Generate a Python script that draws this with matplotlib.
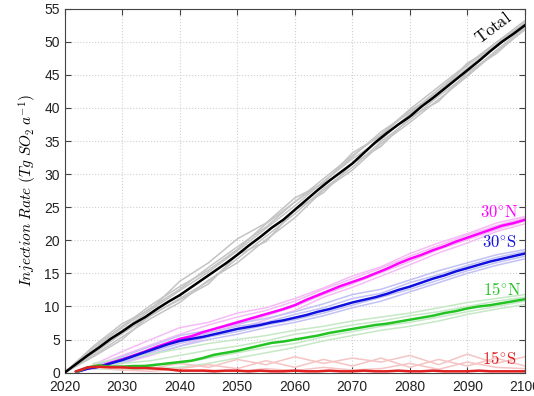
import numpy as np
import matplotlib
matplotlib.use("Agg")
import matplotlib.pyplot as plt

plt.rcParams['font.family'] = ['Liberation Sans', 'DejaVu Sans']
plt.rcParams['mathtext.fontset'] = 'cm'

# ensemble mean, every 2 years 2020-2100 (Tg SO2 per year)
years = np.arange(2020, 2101, 2)
total = [0, 1.3, 2.6, 3.8, 5.1, 6.2, 7.4, 8.4, 9.6, 10.7, 11.7, 12.9, 14.1, 15.3, 16.5,
         17.8, 19.2, 20.5, 21.9, 23.1, 24.6, 26.1, 27.6, 29.0, 30.3, 31.6, 33.2, 34.8,
         36.2, 37.5, 38.7, 40.2, 41.5, 42.9, 44.3, 45.7, 47.1, 48.6, 50.0, 51.2, 52.5]
n30 = [np.nan, 0.1, 0.6, 0.9, 1.5, 2.0, 2.6, 3.2, 3.9, 4.5, 5.1, 5.5, 6.1, 6.6, 7.1, 7.6,
       8.1, 8.6, 9.1, 9.6, 10.2, 11.0, 11.7, 12.4, 13.1, 13.7, 14.3, 15.0, 15.7, 16.5,
       17.2, 17.8, 18.5, 19.1, 19.8, 20.4, 21.0, 21.6, 22.2, 22.6, 23.1]
s30 = [np.nan, 0.1, 0.6, 0.9, 1.4, 1.9, 2.5, 3.1, 3.7, 4.3, 4.8, 5.1, 5.4, 5.8, 6.2, 6.6,
       6.9, 7.2, 7.6, 7.9, 8.3, 8.7, 9.2, 9.6, 10.1, 10.6, 11.0, 11.4, 11.9, 12.5, 13.0,
       13.6, 14.2, 14.7, 15.3, 15.8, 16.3, 16.8, 17.2, 17.6, 18.0]
n15 = [np.nan, 0.1, 0.8, 1.1, 0.9, 0.9, 1.0, 1.0, 1.2, 1.4, 1.6, 1.8, 2.2, 2.7, 3.0, 3.3,
       3.7, 4.1, 4.5, 4.7, 5.0, 5.3, 5.6, 6.0, 6.3, 6.6, 6.9, 7.2, 7.4, 7.7, 8.0, 8.3,
       8.6, 9.0, 9.3, 9.7, 10.0, 10.2, 10.5, 10.8, 11.1]
s15 = [np.nan, 0.2, 0.8, 0.9, 0.8, 0.8, 0.7, 0.7, 0.6, 0.5, 0.3, 0.3, 0.3, 0.2, 0.3, 0.3,
       0.2, 0.3, 0.2, 0.2, 0.3, 0.2, 0.2, 0.3, 0.2, 0.2, 0.3, 0.2, 0.2, 0.3, 0.2, 0.2,
       0.3, 0.2, 0.2, 0.2, 0.3, 0.2, 0.2, 0.2, 0.2]

# individual members, every 5 years
myears = np.arange(2020, 2101, 5)
total_members = [
    [0, 3.8, 7.0, 10.2, 13.0, 15.5, 18.6, 22.5, 25.8, 28.8, 32.6, 36.4, 39.3, 42.8, 46.4, 49.8, 52.8],
    [0, 2.6, 5.4, 8.2, 10.6, 14.0, 16.6, 20.1, 23.4, 27.6, 30.6, 34.6, 37.8, 41.3, 44.8, 48.5, 51.8],
    [0, 3.5, 6.8, 9.8, 12.6, 15.9, 19.0, 22.0, 25.8, 29.3, 32.8, 36.0, 39.8, 43.2, 46.6, 49.9, 53.2],
    [0, 2.9, 5.9, 8.6, 11.2, 13.8, 17.2, 20.6, 24.0, 27.8, 31.0, 34.9, 38.2, 41.8, 45.0, 48.7, 52.2],
    [0, 3.3, 6.4, 9.5, 12.4, 15.2, 18.4, 21.8, 25.2, 28.9, 32.3, 35.2, 39.1, 42.5, 46.0, 49.5, 52.6],
    [0, 4.0, 7.4, 9.6, 13.8, 16.6, 20.2, 22.6, 26.4, 28.6, 33.2, 35.8, 39.6, 42.2, 46.8, 49.2, 53.0],
    [0, 2.4, 5.0, 8.8, 11.0, 13.4, 17.8, 19.8, 24.6, 27.2, 31.6, 34.2, 38.6, 41.0, 45.4, 48.2, 52.0],
]
n30_members = [
    [np.nan, 1.2, 3.2, 5.0, 6.8, 7.6, 9.0, 9.8, 11.2, 12.8, 14.6, 16.0, 18.0, 19.6, 21.0, 22.6, 23.6],
    [np.nan, 0.6, 1.4, 2.6, 4.0, 5.4, 6.6, 8.0, 9.4, 11.4, 12.9, 14.6, 16.3, 18.1, 19.6, 21.3, 22.5],
    [np.nan, 1.0, 2.6, 4.2, 5.8, 7.2, 8.4, 9.4, 10.8, 12.6, 14.2, 15.8, 17.6, 19.2, 20.8, 22.2, 23.4],
    [np.nan, 0.8, 1.8, 3.0, 4.6, 6.0, 7.2, 8.6, 10.0, 11.8, 13.4, 15.1, 16.8, 18.6, 20.1, 21.6, 22.9],
]
s30_members = [
    [np.nan, 1.0, 2.4, 4.0, 5.6, 6.4, 7.4, 8.2, 9.2, 10.4, 11.8, 12.6, 14.0, 15.4, 16.6, 17.8, 18.6],
    [np.nan, 0.5, 1.5, 2.8, 4.0, 5.0, 5.8, 6.8, 7.6, 8.6, 9.8, 10.8, 12.2, 13.6, 15.0, 16.2, 17.2],
    [np.nan, 0.8, 2.0, 3.6, 5.0, 6.0, 7.0, 7.6, 8.8, 9.8, 11.2, 12.0, 13.6, 14.8, 16.2, 17.4, 18.3],
    [np.nan, 0.7, 1.7, 3.1, 4.4, 5.4, 6.2, 7.2, 8.0, 9.0, 10.2, 11.4, 12.6, 14.0, 15.4, 16.6, 17.6],
]
n15_members = [
    [np.nan, 1.4, 2.2, 2.8, 3.6, 4.4, 5.0, 5.6, 6.4, 7.0, 7.8, 8.4, 9.0, 9.8, 10.6, 11.2, 11.8],
    [np.nan, 0.6, 0.4, 0.6, 0.8, 1.4, 2.2, 3.0, 3.8, 4.8, 5.6, 6.4, 7.0, 7.8, 8.8, 9.6, 10.3],
    [np.nan, 1.0, 1.4, 1.8, 2.6, 3.4, 4.0, 4.8, 5.8, 6.4, 7.2, 7.8, 8.6, 9.2, 10.0, 10.8, 11.4],
    [np.nan, 0.9, 0.8, 1.2, 1.4, 2.2, 3.0, 3.8, 4.4, 5.4, 6.2, 7.0, 7.6, 8.4, 9.2, 10.0, 10.8],
]
s15_members = [
    [np.nan, 1.2, 1.0, 0.6, 1.4, 0.8, 2.0, 1.2, 2.4, 1.4, 2.2, 1.6, 2.6, 1.2, 2.8, 1.4, 2.4],
    [np.nan, 0.8, 0.4, 0.2, 0.6, 1.2, 0.6, 1.8, 0.8, 2.0, 1.0, 2.2, 0.8, 2.0, 1.0, 2.2, 1.0],
    [np.nan, 1.0, 0.7, 0.9, 0.2, 0.4, 0.2, 0.6, 0.3, 0.8, 0.4, 0.6, 1.4, 0.5, 1.6, 0.8, 0.6],
]

series = [
    (total, total_members, 'black', '#c4c4c4', r'$\mathrm{Total}$'),
    (n30, n30_members, '#ff00ff', '#f5bdf5', r'$\mathrm{30^{\circ}N}$'),
    (s30, s30_members, '#1010e0', '#c2c2f4', r'$\mathrm{30^{\circ}S}$'),
    (n15, n15_members, '#22c322', '#c6e8c6', r'$\mathrm{15^{\circ}N}$'),
    (s15, s15_members, '#e02020', '#f5c4c4', r'$\mathrm{15^{\circ}S}$'),
]
label_pos = [(2094.4, 52.1, 37), (2095.6, 24.1, 0), (2095.6, 19.6, 0),
             (2096.0, 12.5, 0), (2095.6, 2.1, 0)]

fig = plt.figure(figsize=(5.34, 3.96), dpi=100)
ax = fig.add_axes([0.121, 0.059, 0.862, 0.919])

# pale member lines first, then the means on top
for mean, members, col, pale, name in series:
    for m in members:
        ax.plot(myears, m, color=pale, lw=1.1, zorder=2)
for mean, members, col, pale, name in series:
    ax.plot(years, mean, color=col, lw=1.8, zorder=3)

for (mean, members, col, pale, name), (lx, ly, rot) in zip(series, label_pos):
    ax.text(lx, ly, name, color=col, fontsize=12, ha='center', va='center',
            rotation=rot, zorder=4)

ax.set_xlim(2020, 2100)
ax.set_ylim(0, 55)
ax.set_xticks(np.arange(2020, 2101, 10))
ax.set_yticks(np.arange(0, 56, 5))
ax.tick_params(direction='in', top=True, right=True, labelsize=10, length=4,
               color='#444444', labelcolor='#222222')
ax.tick_params(axis='x', pad=5)
ax.grid(True, linestyle=':', color='#d0d0d0', lw=0.8)
for s in ax.spines.values():
    s.set_color('#444444')
ax.set_ylabel(r'$Injection\ Rate\ (Tg\ SO_2\ a^{-1})$', fontsize=11)

fig.savefig('out.png', dpi=100)
